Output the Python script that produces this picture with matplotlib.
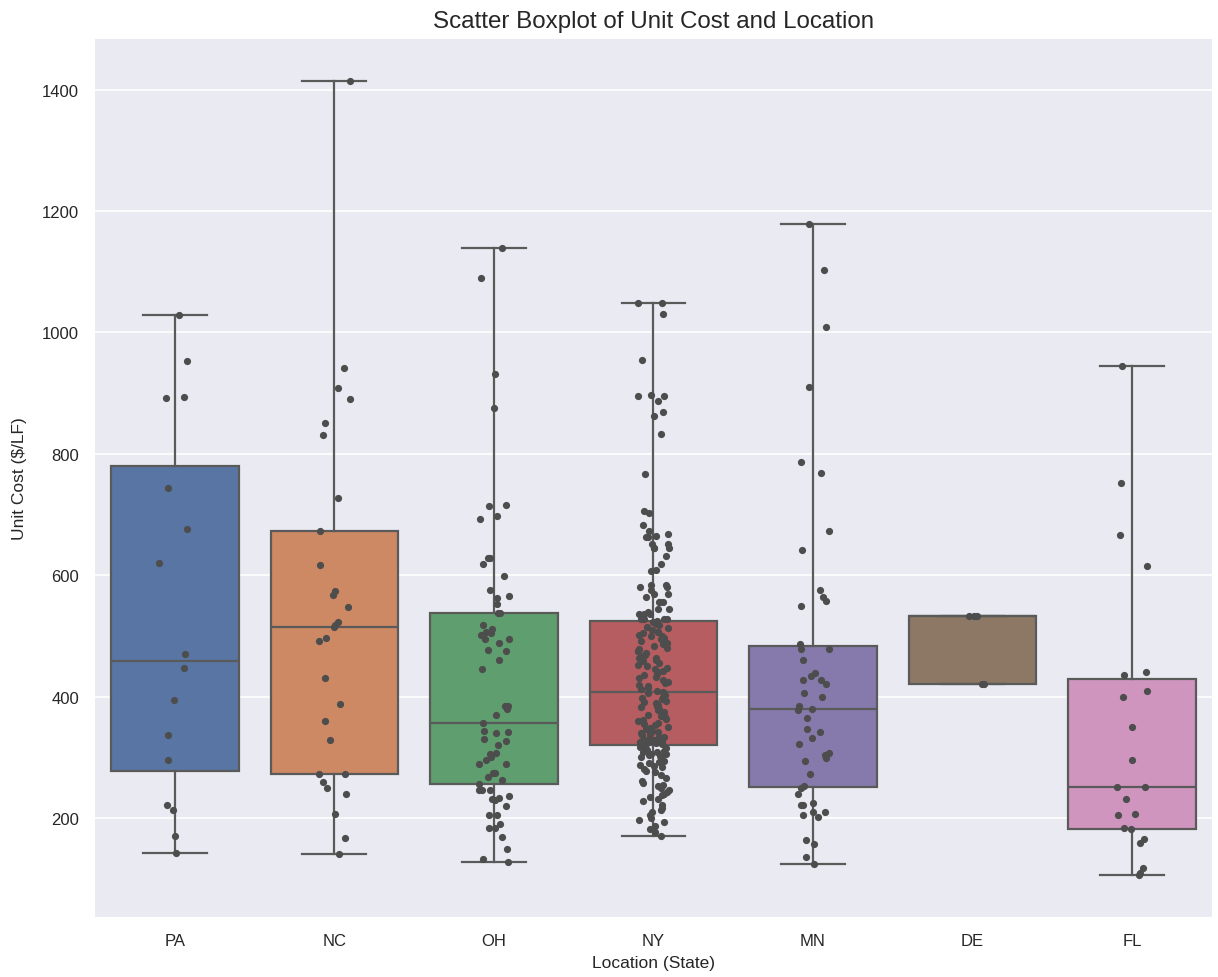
import numpy as np
import matplotlib
matplotlib.use("Agg")
import matplotlib.pyplot as plt

# Unit cost ($/LF) by state
states = ["PA", "NC", "OH", "NY", "MN", "DE", "FL"]

pa_cost = [1028, 953, 894, 892, 743, 676, 620, 470, 447, 395, 336, 295,
           221, 213, 171, 143]

nc_cost = [1414, 942, 909, 890, 850, 831, 727, 673, 617, 574, 568, 548,
           523, 518, 514, 497, 492, 430, 387, 359, 329, 273, 273, 259,
           249, 239, 207, 167, 140]

oh_cost = [1139, 1090, 932, 876, 716, 714, 697, 693, 629, 629, 618, 599,
           576, 565, 563, 552, 537, 537, 518, 511, 506, 504, 502, 494,
           494, 489, 477, 475, 460, 445, 385, 385, 380, 369, 357, 343,
           341, 340, 330, 326, 320, 307, 306, 300, 296, 289, 289, 274,
           274, 267, 262, 256, 246, 246, 246, 236, 232, 231, 229, 220,
           205, 205, 190, 184, 184, 168, 149, 133, 127]

ny_cost = [1049, 1049, 1030, 955, 896, 895, 895, 887, 869, 862, 833, 767,
           706, 702, 683, 673, 667, 664, 663, 663, 652, 652, 645, 645,
           645, 631, 618, 608, 607, 583, 583, 580, 580, 575, 569, 569,
           564, 555, 555, 555, 544, 544, 539, 536, 536, 536, 528, 528,
           528, 528,
           524, 522, 520, 518, 515, 513, 510, 507, 507, 504, 501, 499,
           499, 496, 494, 491, 488, 486, 486, 483, 480, 478, 475, 475,
           472, 469, 467, 464, 464, 461, 458, 455, 452, 450, 447, 445,
           442, 440, 437, 435, 432, 430, 427, 424, 422, 419, 417, 414,
           412, 409,
           407, 405, 403, 400, 398, 396, 393, 391, 389, 386, 384, 382,
           379, 377, 375, 372, 370, 368, 366, 363, 361, 359, 357, 355,
           353, 350, 348, 346, 344, 342, 340, 338, 336, 334, 333, 331,
           330, 329, 328, 327, 327, 326, 325, 325, 324, 323, 323, 322,
           322, 321,
           319, 317, 315, 314, 312, 311, 309, 308, 306, 305, 303, 302,
           300, 298, 296, 294, 292, 290, 288, 286, 284, 281, 278, 275,
           270, 265, 261, 258, 255, 252, 249, 246, 243, 240, 237, 234,
           231, 228, 222, 217, 213, 209, 204, 200, 197, 194, 187, 181,
           176, 170]

mn_cost = [1179, 1102, 1008, 910, 786, 768, 672, 641, 576, 564, 557, 549,
           486, 478, 478, 461, 438, 434, 428, 428, 420, 405, 400, 385,
           380, 378, 364, 347, 342, 332, 322, 307, 304, 298, 294, 272,
           253, 250, 239, 224, 222, 222, 210, 210, 205, 201, 164, 157,
           136, 124]

de_cost = [533, 533, 533, 420, 420]

fl_cost = [945, 751, 666, 615, 440, 436, 409, 400, 350, 296, 251, 251,
           231, 207, 204, 183, 182, 165, 159, 118, 109, 106]

costs = [pa_cost, nc_cost, oh_cost, ny_cost, mn_cost, de_cost, fl_cost]

box_colors = ["#5875A4", "#CC8963", "#5F9E6E", "#B55D60",
              "#857AAB", "#8D7866", "#D095BF"]
line_gray = "#5a5a5a"

plt.rcParams["font.family"] = ["Liberation Sans", "DejaVu Sans"]

fig = plt.figure(figsize=(12.18, 9.78), dpi=100)
ax = fig.add_axes([0.078, 0.0613, 0.917, 0.8978])
ax.set_facecolor("#EAEAF2")
for sp in ax.spines.values():
    sp.set_visible(False)

positions = np.arange(len(states))
line_kw = dict(color=line_gray, linewidth=1.6)
bp = ax.boxplot(costs, positions=positions, widths=0.8, whis=(0, 100),
                patch_artist=True, showfliers=False,
                boxprops=dict(edgecolor=line_gray, linewidth=1.6),
                medianprops=line_kw, whiskerprops=line_kw, capprops=line_kw,
                zorder=2)
for patch, c in zip(bp["boxes"], box_colors):
    patch.set_facecolor(c)

# jittered strip of individual observations
rng = np.random.default_rng(7)
for i, vals in enumerate(costs):
    xs = i + rng.uniform(-0.1, 0.1, size=len(vals))
    ax.scatter(xs, vals, s=27, color="#4d4d4d", linewidths=0, zorder=3)

ax.set_xlim(-0.5, len(states) - 0.5)
ax.margins(y=0.053)
ax.set_xticks(positions)
ax.set_xticklabels(states)
ax.yaxis.grid(True, color="white", linewidth=1.2)
ax.xaxis.grid(False)
ax.set_axisbelow(True)
ax.tick_params(axis="both", length=0, labelsize=12, colors="#262626",
               pad=11.5)
ax.set_yticks([200, 400, 600, 800, 1000, 1200, 1400])

ax.set_xlabel("Location (State)", fontsize=12.5, color="#262626", labelpad=5)
ax.set_ylabel("Unit Cost ($/LF)", fontsize=12.5, color="#262626",
              labelpad=10.5)
ax.set_title("Scatter Boxplot of Unit Cost and Location", fontsize=17.4,
             color="#262626", pad=9)

fig.savefig("out.png", dpi=100, facecolor="white")
